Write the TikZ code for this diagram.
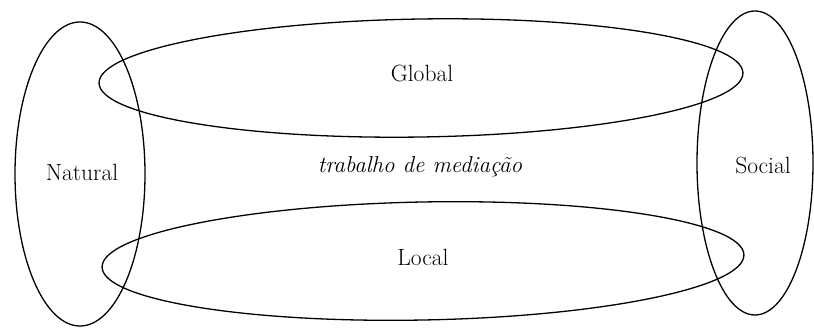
\documentclass[tikz,border=0pt]{standalone}
\begin{document}
\begin{tikzpicture}[x=1pt,y=-1pt,
  ring/.style={draw=black,line width=1.3pt},
  lbl/.style={font=\fontsize{23.5}{28}\selectfont,inner sep=0pt}]
\useasboundingbox (0,0) rectangle (814,328);
\draw[ring] (80,174) ellipse [x radius=65, y radius=152];
\draw[ring] (755,163) ellipse [x radius=58, y radius=152];
\draw[ring,rotate around={0.9:(421,78)}] (421,78) ellipse [x radius=322, y radius=59];
\draw[ring,rotate around={1.1:(423,261)}] (423,261) ellipse [x radius=321, y radius=59];
\node[lbl] (natural) at (82,172) {Natural};
\node[lbl] (social) at (763,165) {Social};
\node[lbl] (global) at (422,73) {Global};
\node[lbl] (local) at (423,257) {Local};
\node[lbl,font=\fontsize{23}{28}\selectfont\itshape] (med) at (420,167) {trabalho de mediação};
\end{tikzpicture}
\end{document}
